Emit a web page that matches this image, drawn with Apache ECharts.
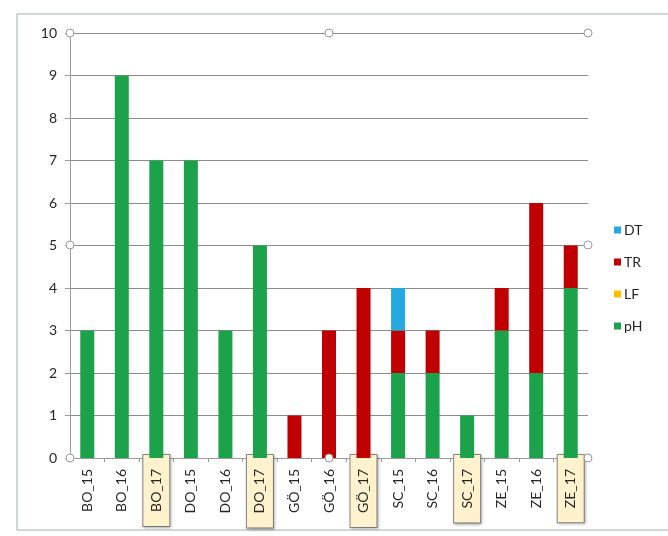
<!DOCTYPE html>
<html>
<head>
<meta charset="utf-8">
<script src="https://cdn.jsdelivr.net/npm/echarts@6/dist/echarts.min.js"></script>
<style>
  html, body { margin: 0; padding: 0; background: #fff; }
  #chart { width: 668px; height: 536px; }
</style>
</head>
<body>
<div id="chart"></div>
<script>
// Sites by year
const categories = ['BO_15', 'BO_16', 'BO_17', 'DO_15', 'DO_16', 'DO_17', 'GÖ_15', 'GÖ_16', 'GÖ_17',
                    'SC_15', 'SC_16', 'SC_17', 'ZE_15', 'ZE_16', 'ZE_17'];
// Highlighted (2017) categories
const highlighted = ['BO_17', 'DO_17', 'GÖ_17', 'SC_17', 'ZE_17'];

// Stacked counts per parameter
const pH = [3, 9, 7, 7, 3, 5, 0, 0, 0, 2, 2, 1, 3, 2, 4];
const LF = [0, 0, 0, 0, 0, 0, 0, 0, 0, 0, 0, 0, 0, 0, 0];
const TR = [0, 0, 0, 0, 0, 0, 1, 3, 4, 1, 1, 0, 1, 4, 1];
const DT = [0, 0, 0, 0, 0, 0, 0, 0, 0, 1, 0, 0, 0, 0, 0];

const yTicks = [0, 1, 2, 3, 4, 5, 6, 7, 8, 9, 10];

const chart = echarts.init(document.getElementById('chart'));

const catData = categories.map(c => highlighted.includes(c)
  ? { value: c, textStyle: { backgroundColor: '#FFF2CC', borderColor: '#8a8a8a', borderWidth: 1,
      shadowColor: 'rgba(0,0,0,0.25)', shadowBlur: 3, shadowOffsetX: 1, shadowOffsetY: 1 } }
  : c);

const font = 'Lato, "Open Sans", sans-serif';

function bar(name, data, color) {
  return {
    name, type: 'bar', stack: 'total', data, barWidth: 14,
    itemStyle: { color }, emphasis: { disabled: true }
  };
}

// plot-area selection handles
const handles = [[70, 33], [329, 33], [588, 33], [70, 245], [588, 245], [70, 458], [329, 458], [588, 458]]
  .map(([x, y]) => ({
    type: 'circle', shape: { cx: x, cy: y, r: 4 },
    style: { fill: '#fff', stroke: '#9a9a9a', lineWidth: 1 }, z: 100
  }));

chart.setOption({
  animation: false,
  backgroundColor: '#fff',
  grid: { left: 70, right: 80, top: 33, bottom: 78 },
  legend: {
    orient: 'vertical', right: 0, left: 609, top: 218,
    itemWidth: 7, itemHeight: 7, itemGap: 18, icon: 'rect',
    data: ['DT', 'TR', 'LF', 'pH'],
    textStyle: { fontFamily: font, fontSize: 14, color: '#262626', padding: [0, 0, 0, -2] }
  },
  xAxis: {
    type: 'category', data: catData,
    axisLine: { show: true, lineStyle: { color: '#9a9a9a' } },
    axisTick: { show: true, length: 4, lineStyle: { color: '#9a9a9a' } },
    axisLabel: {
      rotate: 90, interval: 0, margin: -3, fontFamily: font, fontSize: 14, color: '#262626',
      padding: [6, 14, 6, 14]
    }
  },
  yAxis: {
    type: 'value', min: 0, max: 10, interval: 1,
    axisLine: { show: true, lineStyle: { color: '#9a9a9a' } },
    axisTick: { show: true, length: 5, lineStyle: { color: '#9a9a9a' } },
    splitLine: { lineStyle: { color: '#8c8c8c', width: 1 } },
    axisLabel: {
      margin: 13, fontFamily: font, fontSize: 14, color: '#262626',
      formatter: v => yTicks.includes(v) ? String(v) : ''
    }
  },
  series: [
    bar('pH', pH, '#1BA24A'),
    bar('LF', LF, '#FFC000'),
    bar('TR', TR, '#C00000'),
    bar('DT', DT, '#24A9E1')
  ],
  graphic: [
    {
      type: 'rect', shape: { x: 17, y: 14, width: 660, height: 516 },
      style: { fill: 'none', stroke: '#cfd8d4', lineWidth: 2 }, z: -1
    },
    ...handles
  ]
});
</script>
</body>
</html>
